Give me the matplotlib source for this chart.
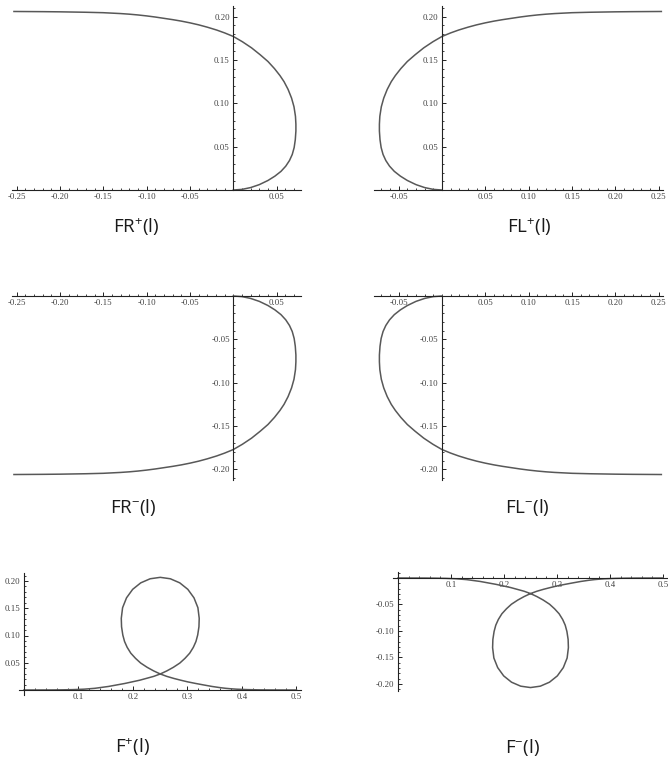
import numpy as np
import matplotlib.pyplot as plt
from matplotlib.ticker import MultipleLocator

# half branch of the right-turning curve FR+(l), from the origin to the far left
fr_x = np.array([0.0000, 0.0100, 0.0200, 0.0300, 0.0400, 0.0480, 0.0550, 0.0605,
                 0.0648, 0.0680, 0.0702, 0.0715, 0.0722, 0.0722, 0.0717, 0.0700,
                 0.0672, 0.0632, 0.0585, 0.0538, 0.0475, 0.0400, 0.0310, 0.0210,
                 0.0105, 0.0000, -0.0100, -0.0192, -0.0300, -0.0400, -0.0500, -0.0600,
                 -0.0700, -0.0800, -0.0900, -0.1000, -0.1100, -0.1200, -0.1300, -0.1500,
                 -0.1700, -0.2000, -0.2200, -0.2530])
fr_y = np.array([0.0000, 0.0007, 0.0028, 0.0062, 0.0110, 0.0160, 0.0215, 0.0275,
                 0.0340, 0.0410, 0.0490, 0.0580, 0.0680, 0.0760, 0.0850, 0.0960,
                 0.1060, 0.1160, 0.1250, 0.1320, 0.1400, 0.1482, 0.1560, 0.1640,
                 0.1710, 0.1771, 0.1812, 0.1845, 0.1878, 0.1905, 0.1928, 0.1948,
                 0.1965, 0.1980, 0.1995, 0.2008, 0.2019, 0.2028, 0.2035, 0.2045,
                 0.2050, 0.2055, 0.2057, 0.2059])

# full loop F+(l)
f_x = np.array([0.000, 0.050, 0.070, 0.090, 0.110, 0.130, 0.155, 0.185, 0.2125, 0.238,
                0.250, 0.2620, 0.2740, 0.2860, 0.2954, 0.3040, 0.3107, 0.3155, 0.3187,
                0.3210, 0.3215, 0.3191, 0.3119, 0.3006, 0.2858, 0.2685, 0.2500, 0.2315,
                0.2142, 0.1994, 0.1881, 0.1809, 0.1785, 0.1790, 0.1813, 0.1845, 0.1893,
                0.1960, 0.2046, 0.2140, 0.2260, 0.2380, 0.250, 0.262, 0.275, 0.2875,
                0.300, 0.315, 0.330, 0.345, 0.360, 0.370, 0.380, 0.390, 0.410, 0.430,
                0.450, 0.500])
f_y = np.array([0.0000, 0.0001, 0.0003, 0.0007, 0.0015, 0.0031, 0.0065, 0.0120, 0.0180,
                0.0250, 0.0294, 0.0350, 0.0416, 0.0495, 0.0581, 0.0675, 0.0783, 0.0890,
                0.1009, 0.1160, 0.1315, 0.1510, 0.1691, 0.1847, 0.1966, 0.2041, 0.2067,
                0.2041, 0.1966, 0.1847, 0.1691, 0.1510, 0.1315, 0.1160, 0.1009, 0.0890,
                0.0783, 0.0675, 0.0581, 0.0495, 0.0416, 0.0350, 0.0294, 0.0250, 0.0212,
                0.0180, 0.0150, 0.0120, 0.0092, 0.0065, 0.0043, 0.0031, 0.0022, 0.0015,
                0.0007, 0.0003, 0.0001, 0.0000])

labels = ['FR^{+}(l)', 'FL^{+}(l)', 'FR^{-}(l)', 'FL^{-}(l)', 'F^{+}(l)', 'F^{-}(l)']

W, H = 668, 761
fig = plt.figure(figsize=(W / 100, H / 100), dpi=100)


def panel(ox, oy, s, xlim, ylim, x, y, xt, yt, xmin, ymin, xfmt, yfmt):
    # ox, oy: pixel position of the origin, s: pixels per unit
    left = ox + xlim[0] * s
    bottom = oy - ylim[0] * s
    rect = [left / W, 1 - bottom / H, (xlim[1] - xlim[0]) * s / W, (ylim[1] - ylim[0]) * s / H]
    ax = fig.add_axes(rect)
    ax.patch.set_visible(False)
    ax.plot(x, y, color='#585858', lw=1.1, clip_on=False, solid_joinstyle='round')
    ax.set_xlim(xlim)
    ax.set_ylim(ylim)
    ax.spines['top'].set_visible(False)
    ax.spines['right'].set_visible(False)
    ax.spines['left'].set_position(('data', 0))
    ax.spines['bottom'].set_position(('data', 0))
    for sp in ['left', 'bottom']:
        ax.spines[sp].set_linewidth(0.8)
        ax.spines[sp].set_color('#222222')
    ax.set_xticks(xt)
    ax.set_xticklabels([xfmt % v for v in xt])
    ax.set_yticks(yt)
    ax.set_yticklabels([yfmt % v for v in yt])
    ax.xaxis.set_minor_locator(MultipleLocator(xmin))
    ax.yaxis.set_minor_locator(MultipleLocator(ymin))
    ax.tick_params(which='major', direction='in', length=3.2, width=0.7, color='#222222',
                   labelsize=6.3, labelcolor='#404040', pad=2.5)
    ax.tick_params(which='minor', direction='in', length=1.6, width=0.6, color='#222222')
    for t in ax.get_xticklabels() + ax.get_yticklabels():
        t.set_fontfamily('Liberation Serif')
    return ax


neg_x = [-0.25, -0.20, -0.15, -0.10, -0.05, 0.05]
pos_x = [-0.05, 0.05, 0.10, 0.15, 0.20, 0.25]
up_y = [0.05, 0.10, 0.15, 0.20]
dn_y = [-0.05, -0.10, -0.15, -0.20]
s1 = 867

panel(233.3, 190, s1, (-0.255, 0.078), (0, 0.212), fr_x, fr_y,
      neg_x, up_y, 0.01, 0.01, '%.2f', '%.2f')
panel(442, 190, s1, (-0.078, 0.255), (0, 0.212), -fr_x, fr_y,
      pos_x, up_y, 0.01, 0.01, '%.2f', '%.2f')
panel(233.3, 296, s1, (-0.255, 0.078), (-0.212, 0), fr_x, -fr_y,
      neg_x, dn_y, 0.01, 0.01, '%.2f', '%.2f')
panel(442, 296, s1, (-0.078, 0.255), (-0.212, 0), -fr_x, -fr_y,
      pos_x, dn_y, 0.01, 0.01, '%.2f', '%.2f')
panel(24, 690, 545, (-0.009, 0.508), (-0.009, 0.214), f_x, f_y,
      [0.1, 0.2, 0.3, 0.4, 0.5], up_y, 0.02, 0.01, '%.1f', '%.2f')
panel(398, 578, 530, (-0.009, 0.508), (-0.214, 0.011), f_x, -f_y,
      [0.1, 0.2, 0.3, 0.4, 0.5], dn_y, 0.02, 0.01, '%.1f', '%.2f')

# captions under each panel
spots = [(136, 233), (529, 233), (133, 513), (527, 513), (132, 753), (522, 753)]
for (px, py), lab in zip(spots, labels):
    fig.text(px / W, 1 - py / H, r'$\mathregular{' + lab + '}$', ha='center', va='baseline',
             fontsize=13.5, fontfamily='Open Sans', color='#1a1a1a')

fig.savefig('out.png', dpi=100)
